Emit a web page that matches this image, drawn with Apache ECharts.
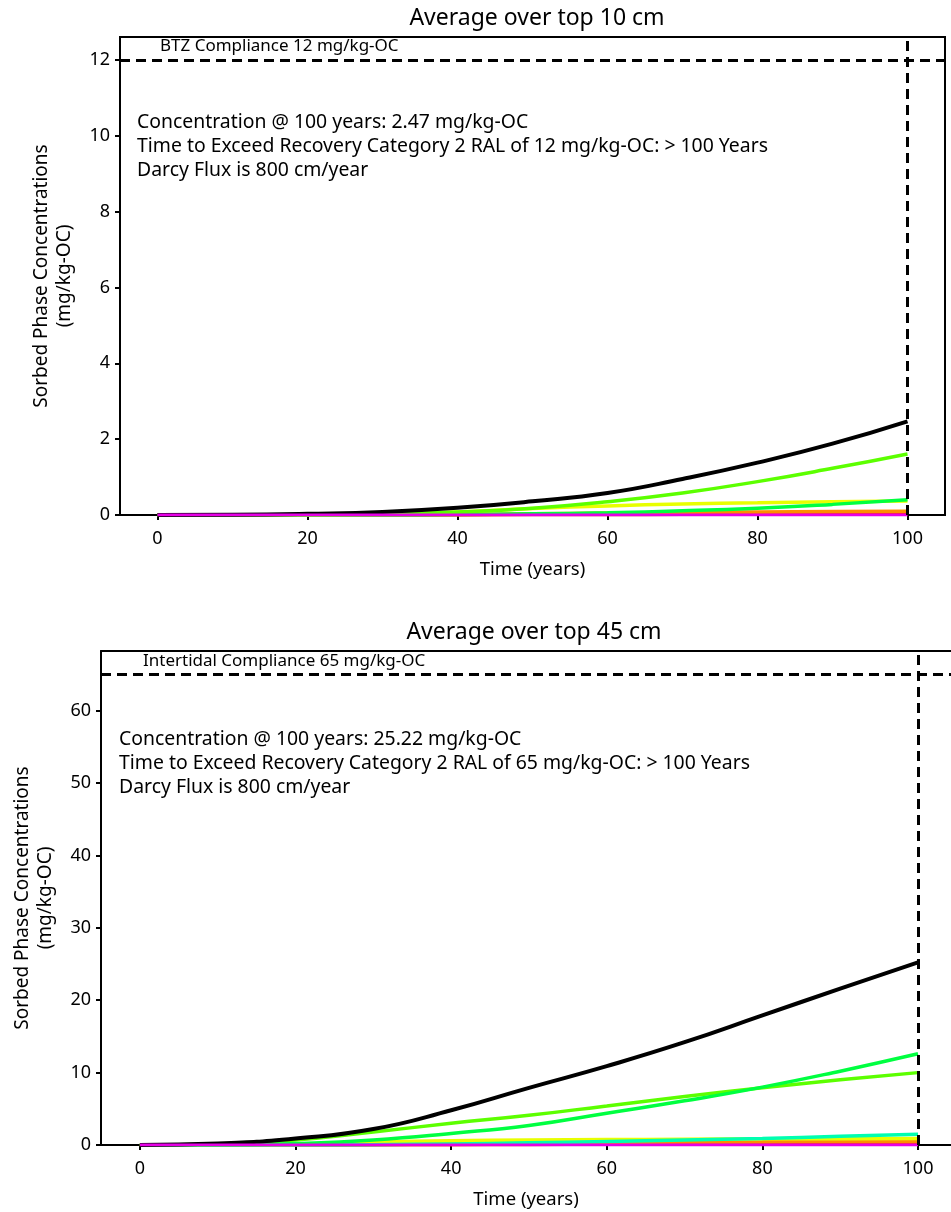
<!DOCTYPE html>
<html>
<head>
<meta charset="utf-8">
<script src="https://cdn.jsdelivr.net/npm/echarts@6/dist/echarts.min.js"></script>
<style>
  html, body { margin: 0; padding: 0; background: #fff; }
  #chart { width: 951px; height: 1212px; }
</style>
</head>
<body>
<div id="chart"></div>
<script>
var myChart = echarts.init(document.getElementById('chart'));

var years = [0, 10, 20, 30, 40, 50, 60, 70, 80, 90, 100];
var xTicks = [0, 20, 40, 60, 80, 100];
var yTicksTop = [0, 2, 4, 6, 8, 10, 12];
var yTicksBot = [0, 10, 20, 30, 40, 50, 60];

// top 10 cm
var top_total   = [0, 0.005, 0.03, 0.08, 0.19, 0.36, 0.58, 0.95, 1.38, 1.88, 2.47];
var top_lime    = [0, 0, 0.01, 0.03, 0.08, 0.18, 0.35, 0.58, 0.88, 1.23, 1.61];
var top_yellow  = [0, 0, 0, 0.02, 0.08, 0.17, 0.24, 0.29, 0.32, 0.35, 0.37];
var top_green   = [0, 0, 0, 0, 0.01, 0.03, 0.06, 0.11, 0.18, 0.28, 0.40];
var top_orange  = [0, 0, 0, 0, 0.01, 0.03, 0.05, 0.07, 0.08, 0.09, 0.10];
var top_red     = [0, 0, 0, 0, 0, 0.01, 0.01, 0.02, 0.03, 0.03, 0.04];
var top_magenta = [0, 0, 0, 0, 0, 0, 0, 0, 0, 0, 0];

// top 45 cm
var bot_total   = [0, 0.2, 0.9, 2.2, 4.8, 7.9, 10.9, 14.2, 17.9, 21.6, 25.22];
var bot_green   = [0, 0, 0.2, 0.7, 1.6, 2.7, 4.4, 6.1, 8.0, 10.2, 12.6];
var bot_lime    = [0, 0.1, 0.7, 1.8, 3.0, 4.1, 5.4, 6.7, 7.9, 9.0, 10.0];
var bot_spring  = [0, 0, 0, 0.05, 0.15, 0.3, 0.5, 0.7, 0.9, 1.2, 1.5];
var bot_yellow  = [0, 0, 0.1, 0.4, 0.6, 0.7, 0.75, 0.8, 0.85, 0.88, 0.9];
var bot_orange  = [0, 0, 0, 0.1, 0.2, 0.3, 0.35, 0.4, 0.45, 0.5, 0.5];
var bot_red     = [0, 0, 0, 0, 0.05, 0.08, 0.1, 0.12, 0.15, 0.18, 0.2];
var bot_magenta = [0, 0, 0, 0, 0, 0, 0, 0, 0, 0, 0];

var FONT = 'Noto Sans';

function pairs(arr) {
  return years.map(function (x, i) { return [x, arr[i]]; });
}

function line(name, idx, arr, color, width) {
  return {
    name: name,
    type: 'line',
    xAxisIndex: idx,
    yAxisIndex: idx,
    data: pairs(arr),
    smooth: 0.5,
    showSymbol: false,
    lineStyle: { color: color, width: width || 3.5 },
    z: 3
  };
}

function refLines(idx, yval) {
  return {
    type: 'line',
    xAxisIndex: idx,
    yAxisIndex: idx,
    data: [],
    markLine: {
      silent: true,
      symbol: 'none',
      label: { show: false },
      lineStyle: { color: '#000', type: [10, 6], width: 3 },
      data: [{ yAxis: yval }, { xAxis: 100 }]
    },
    z: 5
  };
}

function xAx(idx, max) {
  return {
    type: 'value',
    gridIndex: idx,
    min: -5,
    max: max,
    name: 'Time (years)',
    nameLocation: 'middle',
    nameGap: 45,
    nameTextStyle: { fontFamily: FONT, fontSize: 18.5, color: '#000' },
    axisLine: { show: true, onZero: false, lineStyle: { color: '#000', width: 2 } },
    axisTick: { show: true, length: 5, customValues: xTicks, lineStyle: { color: '#000', width: 2 } },
    axisLabel: { customValues: xTicks, fontFamily: FONT, fontSize: 18, color: '#000', margin: 15 },
    splitLine: { show: false }
  };
}

function yAx(idx, max, ticks) {
  return {
    type: 'value',
    gridIndex: idx,
    min: 0,
    max: max,
    name: 'Sorbed Phase Concentrations\n(mg/kg-OC)',
    nameLocation: 'middle',
    nameRotate: 90,
    nameGap: 44,
    nameTextStyle: { fontFamily: FONT, fontSize: 19, color: '#000', lineHeight: 23 },
    axisLine: { show: true, onZero: false, lineStyle: { color: '#000', width: 2 } },
    axisTick: { show: true, length: 5, customValues: ticks, lineStyle: { color: '#000', width: 2 } },
    axisLabel: { customValues: ticks, fontFamily: FONT, fontSize: 18, color: '#000', margin: 10 },
    splitLine: { show: false }
  };
}

function txt(x, y, s, size) {
  return {
    type: 'text',
    x: x,
    y: y,
    style: { text: s, fontFamily: FONT, fontSize: size, fill: '#000', lineHeight: 24 },
    z: 10
  };
}

var option = {
  backgroundColor: '#fff',
  animation: false,
  title: [
    { text: 'Average over top 10 cm', left: 532, top: 2, textAlign: 'center',
      textStyle: { fontFamily: FONT, fontSize: 23, fontWeight: 'normal', color: '#000' } },
    { text: 'Average over top 45 cm', left: 529, top: 616, textAlign: 'center',
      textStyle: { fontFamily: FONT, fontSize: 23, fontWeight: 'normal', color: '#000' } }
  ],
  grid: [
    { left: 120, top: 37, width: 825, height: 478, show: true, borderColor: '#000', borderWidth: 2 },
    { left: 101, top: 651, width: 850, height: 494 }
  ],
  xAxis: [
    xAx(0, 105),
    xAx(1, 104.24),
    // top spine of the lower panel
    { type: 'value', gridIndex: 1, position: 'top', min: -5, max: 104.24,
      axisLine: { show: true, onZero: false, lineStyle: { color: '#000', width: 2 } },
      axisTick: { show: false }, axisLabel: { show: false }, splitLine: { show: false } }
  ],
  yAxis: [yAx(0, 12.6, yTicksTop), yAx(1, 68.25, yTicksBot)],
  graphic: [
    txt(160, 34, 'BTZ Compliance 12 mg/kg-OC', 17),
    txt(137, 110, 'Concentration @ 100 years: 2.47 mg/kg-OC\nTime to Exceed Recovery Category 2 RAL of 12 mg/kg-OC: > 100 Years\nDarcy Flux is 800 cm/year', 19.4),
    txt(143, 649, 'Intertidal Compliance 65 mg/kg-OC', 17),
    txt(119, 727, 'Concentration @ 100 years: 25.22 mg/kg-OC\nTime to Exceed Recovery Category 2 RAL of 65 mg/kg-OC: > 100 Years\nDarcy Flux is 800 cm/year', 19.4)
  ],
  series: [
    line('red', 0, top_red, '#ff3000'),
    line('orange', 0, top_orange, '#ff8c00'),
    line('yellow', 0, top_yellow, '#e8ff00'),
    line('green', 0, top_green, '#00ff40'),
    line('lime', 0, top_lime, '#5cff00'),
    line('total', 0, top_total, '#000', 4),
    line('magenta', 0, top_magenta, '#e600e6', 3),
    refLines(0, 12),

    line('red', 1, bot_red, '#ff3000'),
    line('orange', 1, bot_orange, '#ff8c00'),
    line('yellow', 1, bot_yellow, '#e8ff00'),
    line('spring', 1, bot_spring, '#00ffb0'),
    line('lime', 1, bot_lime, '#5cff00'),
    line('green', 1, bot_green, '#00ff40'),
    line('total', 1, bot_total, '#000', 4),
    line('magenta', 1, bot_magenta, '#e600e6', 3),
    refLines(1, 65)
  ]
};

option && myChart.setOption(option);
</script>
</body>
</html>
